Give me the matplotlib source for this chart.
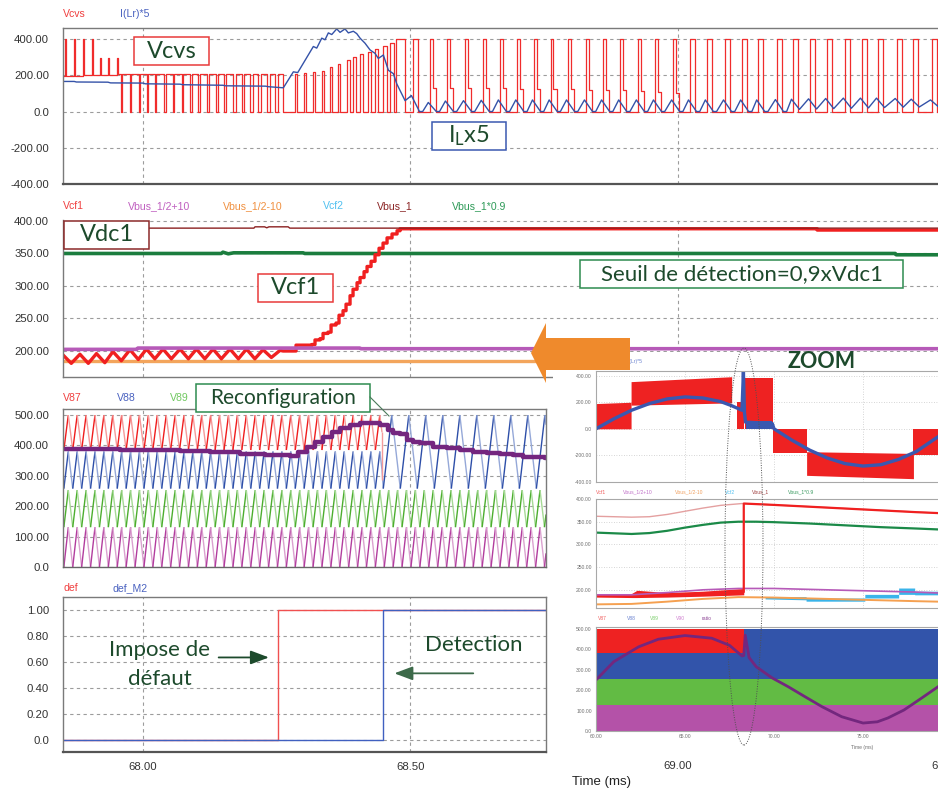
import numpy as np
import matplotlib
matplotlib.use("Agg")
import matplotlib.pyplot as plt
from matplotlib.patches import Rectangle, Polygon, Ellipse
from matplotlib.lines import Line2D
from matplotlib.collections import LineCollection
from matplotlib.transforms import blended_transform_factory

plt.rcParams['font.family'] = ['Liberation Sans', 'DejaVu Sans']
plt.rcParams['mathtext.default'] = 'regular'

W, H = 938, 789
NOTE = ['Lato', 'DejaVu Sans']
DKGREEN = '#1d4a2c'
RED = '#f02c2c'
BLUE = '#3452a8'

# ---------------- data (time in ms) ----------------
t_full = (67.851, 69.487)
t_half = (67.851, 68.754)

# panel 1 : Vcvs  (start level, spikes, drop pulses, rising pulses, 400 V pulses)
vcvs_start = (67.851, 194)
vcvs_spk_t = [67.8547, 67.8716, 67.8884, 67.9052, 67.9202, 67.9352, 67.9520]
vcvs_spk_w = [0.002, 0.002, 0.002, 0.002, 0.002, 0.002, 0.002]
vcvs_spk_v = [400, 400, 400, 400, 295, 295, 295]
vcvs_spk_base = [195, 197, 199, 201, 203, 204, 205]
vcvs_drop_t = [67.9589, 67.9762, 67.9936, 68.0075, 68.0230, 68.0398, 68.0561, 68.0729, 68.0884, 68.1040,
               68.1197, 68.1371, 68.1520, 68.1694, 68.1852, 68.2007, 68.2162, 68.2319, 68.2474]
vcvs_drop_w = [0.002, 0.002, 0.002, 0.0025, 0.0025, 0.003, 0.003, 0.003, 0.0035, 0.0035,
               0.004, 0.004, 0.004, 0.0045, 0.0045, 0.005, 0.005, 0.0055, 0.0055]
vcvs_low_start = 68.2626
vcvs_rise_t = [68.2848, 68.3017, 68.3185, 68.3353, 68.3503, 68.3652, 68.3821, 68.3933, 68.4064, 68.4213,
               68.4344, 68.4494, 68.4625, 68.4743]
vcvs_rise_v = [205, 212, 219, 224, 247, 265, 284, 303, 318, 331, 344, 359, 378, 400]
vcvs_rise_w = [0.003, 0.003, 0.003, 0.004, 0.004, 0.004, 0.005, 0.005, 0.005, 0.006, 0.006, 0.007, 0.007, 0.0163]
vcvs_pwm_t = [68.5055, 68.537, 68.569, 68.6028, 68.636, 68.668, 68.7006, 68.7318, 68.763, 68.7954,
              68.829, 68.861, 68.893, 68.926, 68.958, 68.992, 69.0235, 69.055, 69.089, 69.121,
              69.151, 69.186, 69.216, 69.248, 69.280, 69.313, 69.345, 69.375, 69.410, 69.440, 69.476]
vcvs_pwm_shoulder = [0, 130, 130, 130, 128, 128, 126, 126, 124, 124, 120, 120, 118, 115, 110, 100,
                     0, 0, 0, 0, 0, 0, 0, 0, 0, 0, 0, 0, 0, 0, 0]

# panel 1 : I(Lr)*5
il_t = [67.851, 67.872, 67.876, 67.935, 67.94, 68.0, 68.005, 68.07, 68.075, 68.15, 68.155, 68.23, 68.235,
        68.263, 68.2817, 68.2899, 68.3191, 68.3254, 68.3348, 68.3409, 68.3471, 68.3535, 68.3628, 68.3690,
        68.3783, 68.3845, 68.3939, 68.4002, 68.4064, 68.4157, 68.4251, 68.4344, 68.4406, 68.4500,
        68.4593, 68.4687, 68.4750, 68.4906]
il_v = [166, 166, 163, 162, 158, 157, 153, 151, 148, 145, 142, 140, 137,
        131, 219, 215, 359, 350, 405, 396, 434, 425, 456, 437,
        456, 434, 443, 430, 405, 377, 340, 321, 293, 312,
        228, 209, 153, 60]
il_peak = [88, 50, 58, 60, 62, 64, 64, 64, 64, 64, 64, 64, 64, 64, 64, 64, 64, 64, 64, 64, 64,
           66, 68, 70, 72, 74, 74, 74, 72, 68, 64]
il_low = [0, 0, 0, 0, 0, 0, 0, 0, 0, 0, 0, 0, 0, 0, 0, 0, 0, 0, 0, 0, 0, 0,
          12, 14, 16, 18, 20, 22, 24, 25, 26]

# panel 2
vbus1_t = [67.851, 68.208, 68.21, 68.228, 68.232, 68.236, 68.272, 68.275, 69.487]
vbus1_v = [389, 389, 391, 391, 389.5, 391, 391, 389, 389]
vbus09_t = [67.851, 68.147, 68.150, 68.160, 68.170, 68.300, 68.303, 69.407, 69.409, 69.487]
vbus09_v = [350, 350, 352, 349.5, 351, 351, 350, 350, 348, 348]
vcf1_peak_t = [67.8509, 67.8827, 67.9136, 67.9444, 67.9762, 68.0071, 68.0380, 68.0698, 68.1006, 68.1315,
               68.1633, 68.1941, 68.2250, 68.2568]
vcf1_peak_v = [194, 195, 196, 199, 202, 203, 203, 203, 203, 203, 203, 203, 202, 201]
vcf1_low_t = [67.8665, 67.8983, 67.9292, 67.9600, 67.9918, 68.0227, 68.0536, 68.0854, 68.1162, 68.1471,
              68.1789, 68.2097, 68.2406]
vcf1_low_v = [181, 181, 182, 185, 187, 188, 188, 188, 188, 188, 188, 188, 190]
vcf1_stair_t = [68.2623, 68.2867, 68.3166, 68.3222, 68.3316, 68.3372, 68.3466, 68.3522, 68.3615, 68.3671,
                68.3746, 68.3802, 68.3877, 68.3933, 68.4008, 68.4064, 68.4139, 68.4195, 68.4270, 68.4344,
                68.4419, 68.4494, 68.4569, 68.4662, 68.4756, 68.4812, 69.2612]
vcf1_stair_v = [200, 209, 210, 217, 219, 227, 229, 240, 243, 255, 262, 272, 285, 295, 305, 313, 322, 330,
                338, 348, 358, 366, 374, 380, 385, 388, 386]
vhalf_p_t = [67.851, 67.989, 67.991, 68.406, 68.408, 69.487]
vhalf_p_v = [202.5, 202.5, 204.5, 204.5, 203.5, 203.5]
vhalf_m_t = [67.851, 69.487]
vhalf_m_v = [184.5, 184.5]

# panel 3 : carriers and ratio
carrier_period = 0.01664
carrier_first_peak = 67.8609
carrier_lo = [385, 258, 131, 0]
carrier_hi = [500, 380, 253, 131]
reconf_t = 68.4474
v87_end_v = 285
v88_new_period = 0.0318
v88_new_first_peak = 68.4657
ratio_t = [67.8509, 67.9014, 67.9576, 68.0137, 68.0698, 68.1259, 68.1820, 68.2287, 68.2755, 68.2904,
           68.3073, 68.3222, 68.3372, 68.3540, 68.3690, 68.3877, 68.4064, 68.4251, 68.4438, 68.4587,
           68.4681, 68.4812, 68.4943, 68.5055, 68.5186, 68.5429, 68.5691, 68.5934, 68.6177, 68.6439,
           68.6682, 68.6925, 68.7112, 68.7299, 68.7523, 68.754]
ratio_v = [390, 388, 386, 384, 381, 378, 372, 368, 364, 380, 396, 413, 429, 445, 456, 467, 473, 473, 467,
           451, 440, 438, 418, 413, 407, 396, 391, 385, 380, 374, 372, 369, 363, 361, 360, 360]

# panel 4
def_t = [67.851, 68.253, 68.253, 68.754]
def_v = [0, 0, 1, 1]
defm2_t = [67.851, 68.450, 68.450, 68.754]
defm2_v = [0, 0, 1, 1]

# zoom inset (time 60 .. 79.2 ms)
zoom_t = (60.0, 79.21)
za_blue_t = [60, 61, 62, 63, 64, 65, 66, 67, 67.6, 68.2, 68.28, 68.34, 68.4, 69.9, 70.0, 71, 72, 73, 74,
             75, 76, 77, 78, 79.21]
za_blue_v = [0, 75, 140, 190, 225, 240, 232, 205, 175, 140, 430, 120, 50, 40, 0, -85, -160, -220, -262,
             -280, -270, -230, -170, -60]
za_blk_t0 = [60.0, 61.97, 67.9, 68.37, 69.96, 71.83, 77.83]
za_blk_t1 = [61.97, 67.62, 68.3, 69.96, 71.83, 77.83, 79.21]
za_blk_lo0 = [0, 178, 0, 0, -185, -350, -200]
za_blk_lo1 = [0, 195, 0, 0, -185, -375, -200]
za_blk_hi0 = [190, 355, 200, 385, 0, -172, 0]
za_blk_hi1 = [200, 392, 200, 385, 0, -185, 0]
za_iblk = (68.4, 69.9, 0, 60)

zb_vbus1_t = [60, 62, 63, 64, 65, 66, 67, 68.2, 69, 79.21]
zb_vbus1_v = [362, 360, 361, 366, 373, 380, 386, 390, 389, 369]
zb_green_t = [60, 62, 63, 64, 65, 66, 67, 68, 69, 70, 72, 74, 76, 78, 79.21]
zb_green_v = [326, 323, 325, 330, 337, 343, 348, 350, 350, 349, 346, 342, 338, 335, 333]
zb_vcf1_band_t = [60, 62, 62.3, 64, 66, 68.3]
zb_vcf1_band_lo = [184, 183, 183, 184, 186, 189]
zb_vcf1_band_hi = [190, 192, 199, 194, 197, 203]
zb_vcf1_t = [68.3, 68.3, 70, 72, 74, 76, 78, 79.21]
zb_vcf1_v = [196, 390, 387, 383, 379, 375, 371, 369]
zb_pur_t = [60, 62, 64, 66, 68, 70, 72, 74, 76, 78, 79.21]
zb_pur_v = [189, 189, 194, 200, 203, 203, 201, 199, 197, 195, 193]
zb_org_t = [60, 62, 64, 66, 68, 70, 72, 74, 76, 78, 79.21]
zb_org_v = [168, 169, 174, 180, 184, 183, 181, 179, 177, 175, 174]
zb_vcf2_t = [69.5, 71.8, 71.8, 75.1, 75.1, 77.0, 77.0, 77.9, 77.9, 79.21]
zb_vcf2_lo = [180, 178, 175, 175, 182, 182, 190, 190, 189, 189]
zb_vcf2_hi = [185, 185, 182, 182, 190, 190, 204, 204, 197, 197]

zc_switch_t = 68.3
zc_bands = [(0, 127), (127, 253), (253, 381), (381, 500)]
zc_ratio_t = [60, 61, 62.4, 63.5, 65, 66.5, 67.5, 68.2, 68.3, 68.38, 68.6, 69.0, 69.9, 70.8, 71.8, 72.7,
              73.8, 75.0, 75.8, 76.4, 77.3, 78.3, 79.21]
zc_ratio_v = [250, 340, 413, 450, 468, 455, 420, 368, 370, 470, 360, 315, 260, 217, 165, 119, 70, 39, 45,
              64, 103, 162, 217]

# ---------------- figure ----------------
fig = plt.figure(figsize=(W / 100, H / 100), dpi=100)


def fx(x):
    return x / W


def fy(y):
    return 1 - y / H


def add_ax(x0, y0, x1, y1, **kw):
    return fig.add_axes([fx(x0), fy(y1), fx(x1) - fx(x0), fy(y0) - fy(y1)], **kw)


def style(ax, ylim, yt, ylab, xlim, xgrid):
    ax.set_xlim(xlim)
    ax.set_ylim(ylim)
    ax.set_yticks(yt)
    ax.set_yticklabels(ylab)
    ax.set_xticks(xgrid)
    ax.set_xticklabels([])
    ax.tick_params(length=0, pad=10, labelsize=8.2, labelcolor='#333333')
    ax.grid(True, ls=(0, (3, 3)), color='#9c9c9c', lw=0.8)
    ax.set_axisbelow(True)
    for s in ax.spines.values():
        s.set_color('#7a7a7a')
        s.set_linewidth(1.0)


def label(x, y, s, c, size=7.6):
    fig.text(fx(x), fy(y), s, color=c, fontsize=size, ha='left', va='center')


def steps(t, v):
    T, V = [t[0]], [v[0]]
    for i in range(1, len(t)):
        T += [t[i], t[i]]
        V += [v[i - 1], v[i]]
    return T, V


def triangle(first_peak, period, lo, hi, t0, t1):
    k0 = int(np.floor((t0 - first_peak) / period)) - 1
    k = np.arange(k0, k0 + int((t1 - t0) / period) + 4)
    pk = first_peak + k * period
    tt = np.ravel(np.column_stack([pk, pk + period / 2]))
    vv = np.ravel(np.column_stack([np.full(len(k), hi), np.full(len(k), lo)]))
    inside = (tt > t0) & (tt < t1)
    T = np.concatenate([[t0], tt[inside], [t1]])
    V = np.concatenate([[np.interp(t0, tt, vv)], vv[inside], [np.interp(t1, tt, vv)]])
    return T, V


def two_tone(ax, T, V, dark, light, lw=1.0):
    pts = np.column_stack([T, V])
    segs = np.stack([pts[:-1], pts[1:]], axis=1)
    cols = [dark if V[i + 1] > V[i] else light for i in range(len(V) - 1)]
    ax.add_collection(LineCollection(segs, colors=cols, linewidths=lw))


# ---- panel 1
ax1 = add_ax(63, 28, 938, 184)
style(ax1, (-400, 461), [-400, -200, 0, 200, 400], ['-400.00', '-200.00', '0.0', '200.00', '400.00'],
      t_full, [68.0, 68.5, 69.0])
ax1.spines['right'].set_visible(False)
ax1.spines['bottom'].set_color('#555555')
ax1.spines['bottom'].set_linewidth(1.6)

T, V = [vcvs_start[0]], [vcvs_start[1]]
for t, w, v, b in zip(vcvs_spk_t, vcvs_spk_w, vcvs_spk_v, vcvs_spk_base):
    T += [t, t + w]
    V += [v, b]
for t, w in zip(vcvs_drop_t, vcvs_drop_w):
    T += [t, t + w]
    V += [0, 205]
T.append(vcvs_low_start)
V.append(0)
for t, w, v in zip(vcvs_rise_t, vcvs_rise_w, vcvs_rise_v):
    T += [t, t + w]
    V += [v, 0]
for t, sh in zip(vcvs_pwm_t, vcvs_pwm_shoulder):
    if sh:
        T += [t, t + 0.005, t + 0.011]
        V += [400, sh, 0]
    else:
        T += [t, t + 0.0094]
        V += [400, 0]
T.append(t_full[1])
V.append(0)
ax1.plot(T, V, drawstyle='steps-post', color=RED, lw=0.9)

bt, bv = list(il_t), list(il_v)
for t, p, lo in zip(vcvs_pwm_t, il_peak, il_low):
    bt += [t - 0.003, t + 0.012]
    bv += [p, lo]
    if lo == 0:
        bt.append(t + 0.018)
        bv.append(0)
bt.append(t_full[1])
bv.append(il_low[-1] + 6)
ax1.plot(bt, bv, color=BLUE, lw=1.0)

label(63, 14, 'Vcvs', '#f04040')
label(120, 14, 'I(Lr)*5', '#4a62c0')

# ---- panel 2
ax2 = add_ax(63, 220, 938, 377)
style(ax2, (160, 401.5), [200, 250, 300, 350, 400], ['200.00', '250.00', '300.00', '350.00', '400.00'],
      t_full, [68.0, 68.5, 69.0])
ax2.spines['right'].set_visible(False)
ax2.spines['top'].set_visible(False)
zt = np.ravel(np.column_stack([vcf1_peak_t[:-1], vcf1_low_t]))
zv = np.ravel(np.column_stack([vcf1_peak_v[:-1], vcf1_low_v]))
st, sv = steps(vcf1_stair_t, vcf1_stair_v)
cf_t = list(zt) + [vcf1_peak_t[-1]] + st + [t_full[1]]
cf_v = list(zv) + [vcf1_peak_v[-1]] + sv + [vcf1_stair_v[-1]]
ax2.plot(vhalf_m_t, vhalf_m_v, color='#f3a55c', lw=2.4)
ax2.plot(vbus09_t, vbus09_v, color='#1b7d3e', lw=2.6)
ax2.plot(cf_t, cf_v, color='#f02020', lw=2.4)
ax2.plot(vbus1_t, vbus1_v, color='#8b2020', lw=1.0)
ax2.plot(vhalf_p_t, vhalf_p_v, color='#b65ab8', lw=2.6)
for x, s, c in [(63, 'Vcf1', '#f04040'), (128, 'Vbus_1/2+10', '#c060c0'), (223, 'Vbus_1/2-10', '#f09040'),
                (323, 'Vcf2', '#50c0f0'), (377, 'Vbus_1', '#8b2525'), (452, 'Vbus_1*0.9', '#2e9a58')]:
    label(x, 206, s, c)

# ---- panel 3
ax3 = add_ax(63, 409, 546, 567)
style(ax3, (0, 520), [0, 100, 200, 300, 400, 500], ['0.0', '100.00', '200.00', '300.00', '400.00', '500.00'],
      t_half, [68.0, 68.5])
ax3.spines['bottom'].set_color('#666666')
tones = [('#f01c1c', '#f59a9a'), ('#2d4ea8', '#95a8d8'), ('#4cae2e', '#a6da96'), ('#b23c9e', '#dba2d0')]
for i in [3, 2]:
    T, V = triangle(carrier_first_peak, carrier_period, carrier_lo[i], carrier_hi[i], *t_half)
    two_tone(ax3, T, V, *tones[i])
T, V = triangle(carrier_first_peak, carrier_period, carrier_lo[1], carrier_hi[1], t_half[0], reconf_t)
T2, V2 = triangle(v88_new_first_peak, v88_new_period, carrier_lo[1], carrier_hi[0], reconf_t, t_half[1])
two_tone(ax3, np.concatenate([T, T2[1:]]), np.concatenate([V, V2[1:]]), *tones[1])
T, V = triangle(carrier_first_peak, carrier_period, carrier_lo[0], carrier_hi[0], t_half[0], reconf_t)
two_tone(ax3, np.append(T, reconf_t), np.append(V, v87_end_v), *tones[0])
ax3.plot(ratio_t, ratio_v, drawstyle='steps-post', color='#74267f', lw=3.2)
for x, s, c in [(63, 'V87', '#f04040'), (117, 'V88', '#4a62c0'), (170, 'V89', '#70c860')]:
    label(x, 398, s, c)

# ---- panel 4
ax4 = add_ax(63, 597, 546, 752)
style(ax4, (-0.096, 1.104), [0, 0.2, 0.4, 0.6, 0.8, 1.0], ['0.0', '0.20', '0.40', '0.60', '0.80', '1.00'],
      t_half, [68.0, 68.5])
ax4.set_xticklabels(['68.00', '68.50'])
ax4.tick_params(axis='x', pad=7)
ax4.spines['bottom'].set_color('#555555')
ax4.spines['bottom'].set_linewidth(1.6)
ax4.plot(def_t, def_v, color='#f05050', lw=1.0)
ax4.plot(defm2_t, defm2_v, color='#4060c0', lw=1.0)
label(63, 588, 'def', '#f04040')
label(112, 588, 'def_M2', '#4a62c0')

ax4.text(68.031, 0.694, 'Impose de', fontsize=16, color=DKGREEN, family=NOTE, ha='center', va='center')
ax4.text(68.033, 0.468, 'défaut', fontsize=16, color=DKGREEN, family=NOTE, ha='center', va='center')
ax4.text(68.619, 0.729, 'Detection', fontsize=16, color=DKGREEN, family=NOTE, ha='center', va='center')
ax4.annotate('', xy=(68.236, 0.636), xytext=(68.142, 0.636),
             arrowprops=dict(arrowstyle='-|>,head_length=0.8,head_width=0.3', color=DKGREEN, lw=1.3,
                             mutation_scale=14, shrinkA=0, shrinkB=0))
ax4.annotate('', xy=(68.4705, 0.513), xytext=(68.618, 0.513),
             arrowprops=dict(arrowstyle='-|>,head_length=0.8,head_width=0.3', color='#3d6a4a', lw=1.3,
                             mutation_scale=14, shrinkA=0, shrinkB=0))

# main time-axis labels that sit under the zoom picture
trans = blended_transform_factory(ax1.transData, fig.transFigure)
fig.text(69.0, fy(766), '69.00', transform=trans, ha='center', va='center', fontsize=8.2, color='#333333',
         zorder=4)
fig.text(fx(931), fy(766), '69.50', ha='left', va='center', fontsize=8.2, color='#333333', zorder=4)
fig.text(fx(572), fy(782), 'Time (ms)', ha='left', va='center', fontsize=9.5, color='#222222', zorder=4)

# ---------------- zoom inset ----------------
fig.add_artist(Rectangle((fx(553), 0), 1 - fx(553), fy(352), transform=fig.transFigure,
                         fc='white', ec='none', zorder=1))


def style_zoom(ax, ylim, yt, ylab):
    ax.set_zorder(2)
    ax.set_xlim(zoom_t)
    ax.set_ylim(ylim)
    ax.set_yticks(yt)
    ax.set_yticklabels(ylab)
    ax.set_xticks([65, 70, 75])
    ax.set_xticklabels([])
    ax.tick_params(length=0, pad=3, labelsize=3.6, labelcolor='#707070')
    ax.grid(True, ls=(0, (1, 2)), color='#c8c8c8', lw=0.6)
    ax.set_axisbelow(True)
    for s in ax.spines.values():
        s.set_color('#a8a8a8')
        s.set_linewidth(0.8)
    ax.spines['right'].set_visible(False)


def zlabel(x, y, s, c):
    t = fig.text(fx(x), fy(y), s, color=c, fontsize=3.6, ha='left', va='center', zorder=3)
    return t


za = add_ax(596, 371, 938, 482)
style_zoom(za, (-400, 435), [-400, -200, 0, 200, 400], ['-400.00', '-200.00', '0.0', '200.00', '400.00'])
for t0, t1, l0, l1, h0, h1 in zip(za_blk_t0, za_blk_t1, za_blk_lo0, za_blk_lo1, za_blk_hi0, za_blk_hi1):
    za.fill_between([t0, t1], [l0, l1], [h0, h1], color='#ee2222', lw=0)
za.fill_between(za_iblk[:2], za_iblk[2], za_iblk[3], color='#3a58b0', lw=0)
za.plot(za_blue_t, za_blue_v, color='#3a58b0', lw=2.4)
zlabel(598, 362, 'Vcvs', '#f06060')
zlabel(628, 362, 'I(Lr)*5', '#6a82d0')

zb = add_ax(596, 499, 938, 608)
style_zoom(zb, (160, 400), [200, 250, 300, 350, 400], ['200.00', '250.00', '300.00', '350.00', '400.00'])
zb.plot(zb_org_t, zb_org_v, color='#f5a050', lw=1.4)
zb.fill_between(zb_vcf2_t, zb_vcf2_lo, zb_vcf2_hi, color='#3ab4ea', lw=0)
zb.plot(zb_pur_t, zb_pur_v, color='#b65ab8', lw=1.2)
zb.plot(zb_vbus1_t, zb_vbus1_v, color='#e4a0a0', lw=1.0)
zb.plot(zb_green_t, zb_green_v, color='#1b8a48', lw=1.6)
zb.fill_between(zb_vcf1_band_t, zb_vcf1_band_lo, zb_vcf1_band_hi, color='#f02020', lw=0)
zb.plot(zb_vcf1_t, zb_vcf1_v, color='#f02020', lw=1.6)
for x, s, c in [(596, 'Vcf1', '#f06060'), (623, 'Vbus_1/2+10', '#c070c8'), (675, 'Vbus_1/2-10', '#f0a060'),
                (725, 'Vcf2', '#50c0f0'), (752, 'Vbus_1', '#a04040'), (788, 'Vbus_1*0.9', '#3a9a60')]:
    zlabel(x, 492, s, c)

zc = add_ax(596, 627, 938, 731)
style_zoom(zc, (0, 510), [0, 100, 200, 300, 400, 500], ['0.0', '100.00', '200.00', '300.00', '400.00', '500.00'])
zc.set_xticks([60, 65, 70, 75])
zc.set_xticklabels(['60.00', '65.00', '70.00', '75.00'])
zc.tick_params(axis='x', pad=2)
zc.set_axisbelow(False)
zc.grid(False)
band_cols = ['#b452a8', '#62bb44', '#3254aa', '#ee2222']
for (lo, hi), c in zip(zc_bands[:2], band_cols[:2]):
    zc.fill_between(zoom_t, lo, hi, color=c, lw=0)
for (lo, hi), c in zip(zc_bands[2:], band_cols[2:]):
    zc.fill_between([zoom_t[0], zc_switch_t], lo, hi, color=c, lw=0)
zc.fill_between([zc_switch_t, zoom_t[1]], zc_bands[2][0], zc_bands[3][1], color=band_cols[2], lw=0)
zc.plot(zc_ratio_t, zc_ratio_v, color='#73277e', lw=2.0)
fig.text(fx(862), fy(747), 'Time (ms)', fontsize=3.6, color='#707070', ha='center', va='center', zorder=3)
for x, s, c in [(598, 'V87', '#f06060'), (627, 'V88', '#6a82d0'), (650, 'V89', '#80d070'),
                (676, 'V90', '#d080d0'), (702, 'ratio', '#904a98')]:
    zlabel(x, 618, s, c)

fig.text(fx(822), fy(362), 'ZOOM', fontsize=15.5, fontweight='bold', color=DKGREEN, family=NOTE,
         ha='center', va='center', zorder=6)

# ---------------- callouts ----------------


def boxed(x0, y0, x1, y1, txt, ec, size):
    fig.add_artist(Rectangle((fx(x0), fy(y1)), fx(x1) - fx(x0), fy(y0) - fy(y1), transform=fig.transFigure,
                             fc='white', ec=ec, lw=1.1, zorder=5))
    fig.text(fx((x0 + x1) / 2), fy((y0 + y1) / 2), txt, fontsize=size, color=DKGREEN, family=NOTE,
             ha='center', va='center', zorder=6)


boxed(134, 37, 209, 65, 'Vcvs', '#e83a3a', 17)
boxed(432, 122, 506, 150, 'I$_L$x5', '#3a58b0', 17)
boxed(64, 221, 149, 249, 'Vdc1', '#8b2a2a', 17)
boxed(258, 274, 333, 302, 'Vcf1', '#e83a3a', 17)
boxed(580, 260, 903, 288, 'Seuil de détection=0,9xVdc1', '#2e8b50', 16)
boxed(196, 384, 370, 412, 'Reconfiguration', '#2e8b50', 15)
fig.add_artist(Line2D([fx(370), fx(389)], [fy(397), fy(416)], transform=fig.transFigure,
                      color='#4a7a5a', lw=0.8, zorder=5))

fig.add_artist(Polygon([(fx(531), fy(353)), (fx(546), fy(323)), (fx(546), fy(338)), (fx(630), fy(338)),
                        (fx(630), fy(370)), (fx(546), fy(370)), (fx(546), fy(383))],
                       closed=True, transform=fig.transFigure, fc='#ef8a2c', ec='none', zorder=7))
fig.add_artist(Ellipse((fx(744), fy(546.5)), 38 / W, 397 / H, transform=fig.transFigure, fill=False,
                       ec='#505050', lw=0.7, ls=(0, (1, 1.5)), zorder=8))

fig.savefig('out.png', dpi=100)
